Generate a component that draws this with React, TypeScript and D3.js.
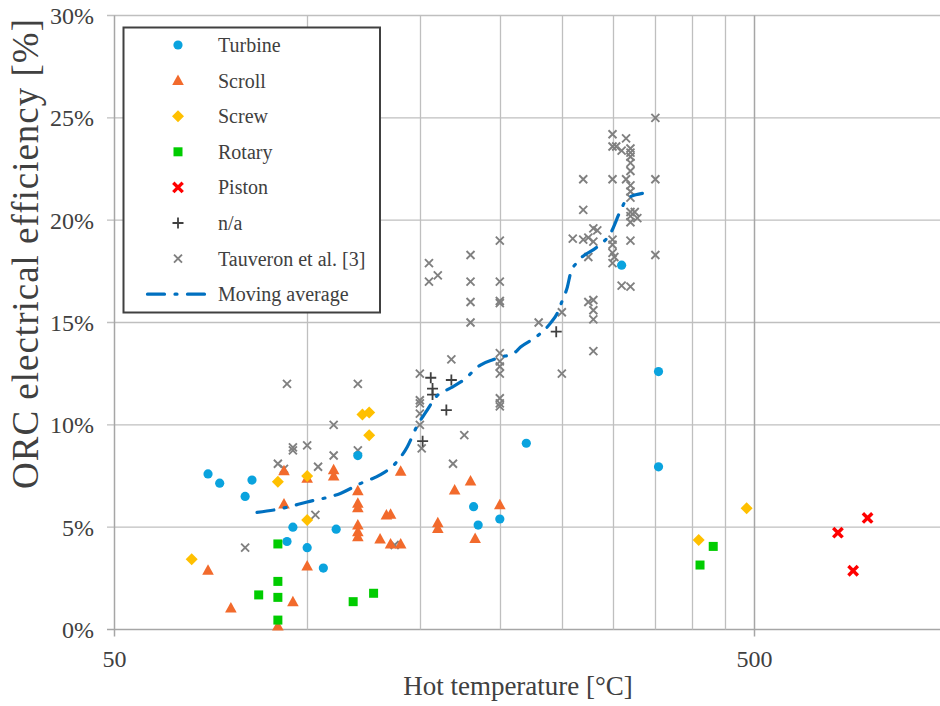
import React from "react";
import * as d3 from "d3";

type P = [number, number];

const turbine: P[] = [
  [70, 7.6], [73, 7.15], [80, 6.5], [82, 7.3], [93, 4.3], [95, 5.0], [100, 4.0], [106, 3.0],
  [111, 4.9], [120, 8.5], [182, 6.0], [185, 5.1], [200, 5.4], [220, 9.1], [310, 17.8],
  [354, 12.6], [354, 7.95],
];

const scroll: P[] = [
  [70, 2.9], [76, 1.05], [90, 0.17], [92, 6.13], [92, 7.76], [95, 1.36], [100, 3.1], [100, 7.39],
  [110, 7.8], [110, 7.5], [120, 6.78], [120, 6.17], [120, 5.95], [120, 5.1], [120, 4.78], [120, 4.53],
  [130, 4.42], [133, 5.6], [135, 5.63], [135, 4.18], [140, 4.18], [140, 7.73], [160, 5.22], [160, 4.94],
  [170, 6.81], [180, 7.25], [183, 4.45], [200, 6.1],
];

const screw: P[] = [
  [66, 3.43], [90, 7.22], [100, 7.5], [100, 5.35], [122, 10.5], [125, 10.6], [125, 9.49], [409, 4.37], [486, 5.92],
];

const rotary: P[] = [
  [84, 1.69], [90, 4.18], [90, 2.35], [90, 1.57], [90, 0.46], [118, 1.36], [127, 1.77], [411, 3.15], [431, 4.06],
];

const piston: P[] = [[675, 4.73], [713, 2.87], [751, 5.45]];

const na: P[] = [[151.5, 9.2], [156, 12.3], [157, 11.77], [157, 11.48], [165, 10.72], [168, 12.19], [245, 14.55]];

const tauveron: P[] = [
  [80, 4.0], [90, 8.1], [92, 7.85], [93, 12.0], [95, 8.9], [95, 8.75], [100, 9.0], [103, 5.6], [104, 7.95],
  [110, 10.0], [110, 8.5], [120, 12.0], [120, 8.75], [137, 4.13],
  [150, 12.5], [150, 11.2], [150, 11.05], [150, 10.55], [150, 10.0], [151, 8.85],
  [155, 17.9], [155, 17.0], [160, 17.3], [168, 13.2], [169, 8.1], [176, 9.5],
  [180, 18.3], [180, 17.0], [180, 16.0], [180, 15.0],
  [200, 19.0], [200, 17.0], [200, 16.05], [200, 15.95], [200, 13.5], [200, 13.1], [200, 12.85], [200, 12.5],
  [200, 11.3], [200, 11.05], [200, 10.9],
  [230, 15.0], [250, 15.5], [250, 12.5],
  [260, 19.1], [270, 22.0], [270, 20.5], [270, 19.05], [275, 19.15], [275, 18.2], [275, 16.0], [280, 19.6],
  [284, 19.5], [280, 18.95], [280, 16.1], [280, 15.6], [280, 15.15], [280, 13.6],
  [300, 24.2], [300, 23.6], [300, 22.0], [300, 19.05], [300, 18.8], [300, 18.4], [302, 18.2], [300, 17.9],
  [304, 23.6], [310, 23.4], [315, 24.0], [315, 22.0], [310, 16.8],
  [320, 23.5], [320, 23.3], [320, 23.1], [320, 22.8], [320, 22.4], [320, 21.7], [320, 21.4], [320, 21.1],
  [320, 20.4], [320, 20.2], [320, 19.9], [320, 19.0], [320, 16.75], [325, 20.4], [328, 20.1],
  [350, 25.0], [350, 22.0], [350, 18.3],
];

const movingAvg: P[] = [
  [83.5, 5.72], [89.8, 5.87], [100, 6.23], [112.7, 6.65], [122, 7.18], [130, 7.55], [137.5, 8.13],
  [143.4, 8.93], [148.2, 9.89], [154, 10.72], [159, 11.37], [167.5, 11.8], [175.5, 12.19], [186.5, 12.92],
  [195.5, 13.19], [200.6, 13.31], [210, 13.48], [215.5, 13.8], [229, 14.34], [240, 14.97], [246, 15.46],
  [250.6, 16.1], [255, 16.73], [258, 17.42], [264.5, 17.96], [284, 18.7], [298, 19.37], [309, 20.49],
  [316.5, 21.06], [334, 21.31],
];

const yTicks = [0, 5, 10, 15, 20, 25, 30];
const xMajorTicks = [50, 500];
const xMinorTicks = [100, 150, 200, 250, 300, 350, 400, 450];

const legendItems = ["Turbine", "Scroll", "Screw", "Rotary", "Piston", "n/a", "Tauveron et al. [3]", "Moving average"];

const C = {
  turbine: "#0AA3DE",
  scroll: "#F26A2C",
  screw: "#FFC000",
  rotary: "#00CC00",
  piston: "#FF0000",
  na: "#404040",
  tau: "#808080",
  avg: "#0070C0",
  grid: "#BFBFBF",
  axis: "#A6A6A6",
  text: "#404040",
};

const FONT = "'Liberation Serif', 'Times New Roman', serif";

function Marker({ kind, x, y }: { kind: string; x: number; y: number }) {
  switch (kind) {
    case "Turbine":
      return <circle cx={x} cy={y} r={4.6} fill={C.turbine} />;
    case "Scroll":
      return <path d={`M${x},${y - 6}L${x + 5.8},${y + 4.5}L${x - 5.8},${y + 4.5}Z`} fill={C.scroll} />;
    case "Screw":
      return <path d={`M${x},${y - 6}L${x + 6},${y}L${x},${y + 6}L${x - 6},${y}Z`} fill={C.screw} />;
    case "Rotary":
      return <rect x={x - 4.5} y={y - 4.5} width={9} height={9} fill={C.rotary} />;
    case "Piston":
      return (
        <path
          d={`M${x - 3.5},${y - 3.5}L${x + 3.5},${y + 3.5}M${x + 3.5},${y - 3.5}L${x - 3.5},${y + 3.5}`}
          stroke={C.piston}
          strokeWidth={3.4}
          strokeLinecap="square"
        />
      );
    case "n/a":
      return (
        <path d={`M${x - 5.5},${y}L${x + 5.5},${y}M${x},${y - 5.5}L${x},${y + 5.5}`} stroke={C.na} strokeWidth={1.8} />
      );
    case "Tauveron et al. [3]":
      return (
        <path
          d={`M${x - 4},${y - 4}L${x + 4},${y + 4}M${x + 4},${y - 4}L${x - 4},${y + 4}`}
          stroke={C.tau}
          strokeWidth={1.9}
        />
      );
    default:
      return null;
  }
}

export default function App() {
  const W = 940;
  const H = 706;
  const x = d3.scaleLog().domain([50, 500]).range([114.5, 754.5]);
  const y = d3.scaleLinear().domain([0, 30]).range([629.5, 15.5]);
  const xRight = W;

  const line = d3
    .line<P>()
    .x((d) => x(d[0]))
    .y((d) => y(d[1]))
    .curve(d3.curveMonotoneX);

  const series: [string, P[]][] = [
    ["Tauveron et al. [3]", tauveron],
    ["Turbine", turbine],
    ["Scroll", scroll],
    ["Screw", screw],
    ["Rotary", rotary],
    ["Piston", piston],
    ["n/a", na],
  ];

  const lg = { x: 123.5, y: 27.5, w: 256.5, h: 285, mx: 178, tx: 218, row0: 45, step: 35.6 };

  return (
    <svg
      width={W}
      height={H}
      style={{ position: "absolute", left: 0, top: 0, background: "#fff" }}
      fontFamily={FONT}
    >
      <rect x={0} y={0} width={W} height={H} fill="#fff" />
      {yTicks.map((t) => (
        <line key={"h" + t} x1={107} x2={xRight} y1={y(t)} y2={y(t)} stroke={t === 0 ? C.axis : C.grid} strokeWidth={t === 0 ? 1.5 : 1.3} />
      ))}
      {xMinorTicks.map((t) => (
        <line key={"vm" + t} x1={Math.round(x(t)) + 0.5} x2={Math.round(x(t)) + 0.5} y1={y(30)} y2={y(0)} stroke={C.grid} strokeWidth={1.3} />
      ))}
      {xMajorTicks.map((t) => (
        <line key={"vM" + t} x1={x(t)} x2={x(t)} y1={y(30)} y2={y(0) + 7} stroke={C.axis} strokeWidth={1.5} />
      ))}
      {yTicks.map((t) => (
        <text key={"yl" + t} x={94} y={y(t)} dy="0.35em" textAnchor="end" fontSize={24} fill={C.text}>
          {t + "%"}
        </text>
      ))}
      {xMajorTicks.map((t) => (
        <text key={"xl" + t} x={x(t)} y={667} textAnchor="middle" fontSize={24} fill={C.text}>
          {t}
        </text>
      ))}
      <text x={518} y={695} textAnchor="middle" fontSize={27} fill={C.text}>
        Hot temperature [°C]
      </text>
      <text
        transform={`translate(38,${254}) rotate(-90)`}
        textAnchor="middle"
        fontSize={37}
        fill={C.text}
        textLength={470}
        lengthAdjust="spacing"
      >
        ORC electrical efficiency [%]
      </text>

      {series.map(([name, data]) => (
        <g key={name}>
          {data.map((d, i) => (
            <Marker key={i} kind={name} x={x(d[0])} y={y(d[1])} />
          ))}
        </g>
      ))}
      <path
        d={line(movingAvg) || ""}
        fill="none"
        stroke={C.avg}
        strokeWidth={3.2}
        strokeDasharray="17 10.5 2 10.5"
        strokeLinecap="round"
      />

      <rect x={lg.x} y={lg.y} width={lg.w} height={lg.h} fill="#fff" stroke={C.text} strokeWidth={2} />
      {legendItems.map((name, i) => {
        const cy = lg.row0 + i * lg.step;
        return (
          <g key={name}>
            {name === "Moving average" ? (
              <path
                d={`M147.5,${cy}L207.5,${cy}`}
                stroke={C.avg}
                strokeWidth={3.2}
                strokeDasharray="17 10.5 2 10.5"
                strokeLinecap="round"
              />
            ) : (
              <Marker kind={name} x={lg.mx} y={cy} />
            )}
            <text x={lg.tx} y={cy} dy="0.35em" fontSize={20} fill={C.text}>
              {name}
            </text>
          </g>
        );
      })}
    </svg>
  );
}
